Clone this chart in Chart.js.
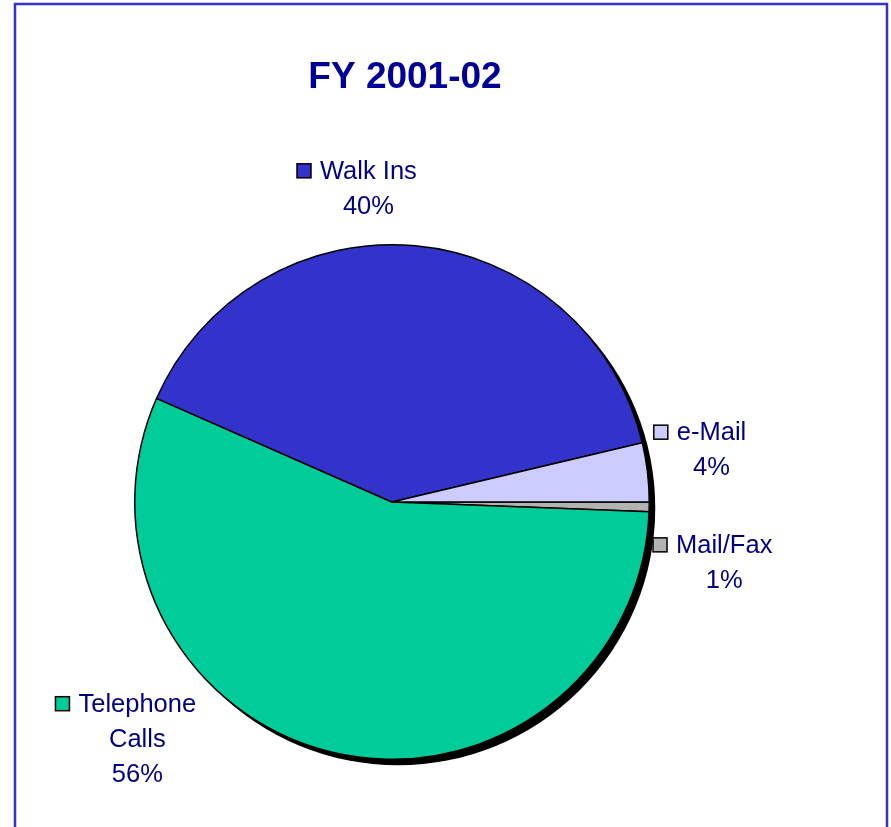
<!DOCTYPE html>
<html>
<head>
<meta charset="utf-8">
<script src="https://cdn.jsdelivr.net/npm/chart.js@4"></script>
<style>
  body { margin: 0; background: #fff; }
</style>
</head>
<body>
<canvas id="myChart" width="891" height="827"></canvas>
<script>
const categories = ["Mail/Fax", ["Telephone", "Calls"], "Walk Ins", "e-Mail"]
const shares = [0.6, 56.0, 39.7, 3.7]
const sliceColors = ["#b3b3b3", "#00cc99", "#3333cc", "#ccccff"]
const chartTitle = "FY 2001-02"

// where each label sits, relative to the slice's outer mid point
const labelOffsets = [[75, 46], [-197, -41], [-47, -67], [64, -32]]

const textColor = "#000080"
const fontFamily = "'Liberation Sans', Arial, sans-serif"

const frameAndTitle = {
  id: "frameAndTitle",
  beforeDraw(chart) {
    const c = chart.ctx
    c.save()
    c.strokeStyle = "#3333cc"
    c.lineWidth = 2.5
    c.strokeRect(15, 4, 872, 900)
    c.fillStyle = "#000099"
    c.font = "bold 37px " + fontFamily
    c.textAlign = "center"
    c.textBaseline = "alphabetic"
    c.fillText(chartTitle, 405, 88)
    c.restore()
  },
}

const pieShadow = {
  id: "pieShadow",
  beforeDatasetsDraw(chart) {
    const arc = chart.getDatasetMeta(0).data[0]
    if (!arc) return
    const c = chart.ctx
    c.save()
    c.fillStyle = "#000"
    c.beginPath()
    c.arc(arc.x + 6, arc.y + 6, arc.outerRadius, 0, Math.PI * 2)
    c.fill()
    c.restore()
  },
}

const sliceLabels = {
  id: "sliceLabels",
  afterDatasetsDraw(chart) {
    const c = chart.ctx
    const meta = chart.getDatasetMeta(0)
    const vals = chart.data.datasets[0].data
    const total = vals.reduce((a, b) => a + b, 0)
    c.save()
    c.font = "25.5px " + fontFamily
    c.textAlign = "center"
    c.textBaseline = "alphabetic"
    meta.data.forEach((arc, i) => {
      const mid = (arc.startAngle + arc.endAngle) / 2
      const px = arc.x + Math.cos(mid) * arc.outerRadius + labelOffsets[i][0]
      const py = arc.y + Math.sin(mid) * arc.outerRadius + labelOffsets[i][1]
      const name = chart.data.labels[i]
      const lines = (Array.isArray(name) ? name : [name]).slice()
      lines.push(Math.round(vals[i] / total * 100) + "%")

      // colour box before first line
      const w = c.measureText(lines[0]).width
      const bx = px - w / 2 - 9 - 14
      c.fillStyle = sliceColors[i]
      c.fillRect(bx, py - 15, 14, 14)
      c.strokeStyle = "#000"
      c.lineWidth = 1.5
      c.strokeRect(bx, py - 15, 14, 14)

      c.fillStyle = textColor
      lines.forEach((t, k) => c.fillText(t, px, py + k * 35))
    })
    c.restore()
  },
}

const ctx = document.getElementById("myChart").getContext("2d")

const data = {
  labels: categories,
  datasets: [{
    data: shares,
    backgroundColor: sliceColors,
    borderColor: "#000",
    borderWidth: 1.5,
    hoverOffset: 0,
  }],
}

const config = {
  type: "pie",
  data: data,
  options: {
    responsive: false,
    animation: false,
    devicePixelRatio: 1,
    rotation: 90,
    layout: {
      padding: { left: 134, top: 244, right: 241, bottom: 67 },
    },
    plugins: {
      legend: { display: false },
      title: { display: false },
      tooltip: { enabled: false },
    },
  },
  plugins: [frameAndTitle, pieShadow, sliceLabels],
}

const myChart = new Chart(ctx, config)
</script>
</body>
</html>
